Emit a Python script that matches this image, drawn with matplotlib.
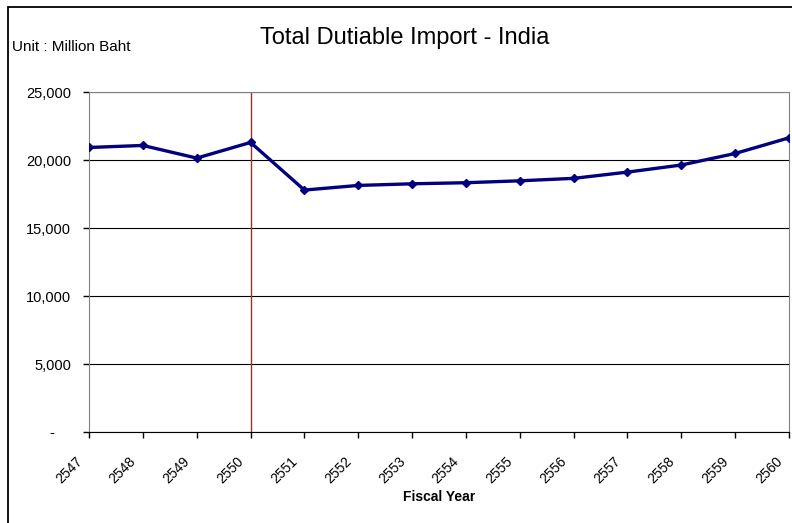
import matplotlib.pyplot as plt
from matplotlib.patches import Rectangle
from matplotlib.ticker import FuncFormatter
from matplotlib.transforms import ScaledTranslation

years = ['2547', '2548', '2549', '2550', '2551', '2552', '2553',
         '2554', '2555', '2556', '2557', '2558', '2559', '2560']
imports = [20920, 21070, 20140, 21290, 17790, 18130, 18250,
           18330, 18470, 18650, 19110, 19630, 20480, 21630]
split_year = '2550'

plt.rcParams['font.family'] = ['Liberation Sans', 'DejaVu Sans']

fig = plt.figure(figsize=(7.92, 5.23), dpi=100)
ax = fig.add_axes([89 / 792, 1 - 432 / 523, 700 / 792, 340 / 523])

# outer frame (only top and left edges are visible)
fig.patches.append(Rectangle((8 / 792, -0.1), 1.2, 1.1 - 7 / 523,
                             transform=fig.transFigure, fill=False,
                             edgecolor='black', linewidth=1.3))

x = list(range(len(years)))
ax.plot(x, imports, color='#000080', linewidth=2.4, marker='D',
        markersize=4, zorder=3)
ax.axvline(years.index(split_year), color='#a0302a', linewidth=1.0, zorder=2)

ax.set_xlim(0, len(years) - 1)
ax.set_ylim(0, 25000)
ax.set_yticks(range(0, 25001, 5000))
ax.yaxis.set_major_formatter(FuncFormatter(lambda v, p: '-' if v == 0 else f'{int(v):,}'))
ax.grid(axis='y', color='black', linewidth=0.8)
ax.set_axisbelow(True)

ax.set_xticks(x)
ax.set_xticklabels(years, rotation=45, ha='right', va='top',
                   rotation_mode='anchor')
ax.tick_params(axis='both', length=4, width=1, direction='out')
ax.tick_params(axis='y', pad=9, labelsize=10.5)
ax.tick_params(axis='x', pad=12, labelsize=10)

# shift the slanted year labels a little to the left of their ticks
shift = ScaledTranslation(-14 / 100, 0, fig.dpi_scale_trans)
for lab in ax.get_xticklabels():
    lab.set_transform(lab.get_transform() + shift)
# the zero label sits further left
zero_shift = ScaledTranslation(-17 / 100, 0, fig.dpi_scale_trans)
ax.get_yticklabels()[0].set_transform(ax.get_yticklabels()[0].get_transform() + zero_shift)

for s in ['left', 'top', 'right']:
    ax.spines[s].set_color('#808080')
ax.spines['bottom'].set_color('black')

ax.set_xlabel('Fiscal Year', fontsize=10, fontweight='bold', labelpad=3)
fig.text(405 / 792, 1 - 38 / 523, 'Total Dutiable Import - India',
         ha='center', va='center', fontsize=17)
fig.text(12 / 792, 1 - 47 / 523, 'Unit : Million Baht',
         ha='left', va='center', fontsize=11)

fig.savefig('out.png', dpi=100)
